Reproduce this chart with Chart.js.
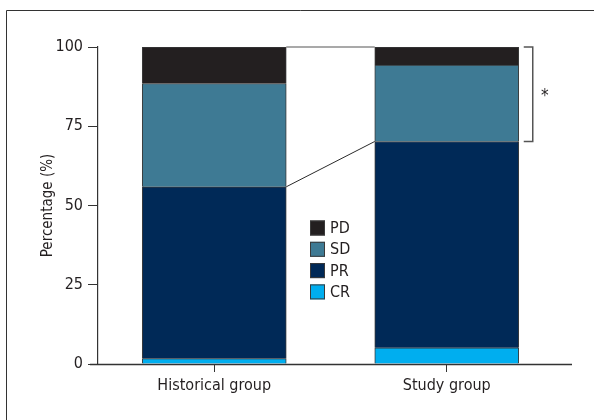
<!DOCTYPE html>
<html>
<head>
<meta charset="utf-8">
<script src="https://cdn.jsdelivr.net/npm/chart.js@4"></script>
<style>
  html, body { margin: 0; padding: 0; background: #ffffff; }
  #wrap { width: 594px; height: 420px; }
</style>
</head>
<body>
<div id="wrap"><canvas id="c" width="594" height="420"></canvas></div>
<script>
// Response categories per group (percentages, stacked bottom to top: CR, PR, SD, PD)
const categories = ['Historical group', 'Study group'];
const crValues = [1.7, 5.1];
const prValues = [54.2, 65.1];
const sdValues = [32.6, 24.1];
const pdValues = [11.5, 5.7];
const yTickValues = [0, 25, 50, 75, 100];

const FONT = "'Liberation Sans Narrow', 'DejaVu Sans Condensed', 'Arial Narrow', sans-serif";
const INK = '#231f20';
const EDGE = '#3a3a3a';

const seriesDefs = [
  { label: 'CR', values: crValues, color: '#00aeef' },
  { label: 'PR', values: prValues, color: '#002957' },
  { label: 'SD', values: sdValues, color: '#3e7a94' },
  { label: 'PD', values: pdValues, color: '#231f20' }
];

const BAR_WIDTH = 144;

// Outer figure frame (left and top edges) and the full-width baseline
const framePlugin = {
  id: 'frame',
  beforeDraw(chart) {
    const ctx = chart.ctx;
    ctx.save();
    ctx.strokeStyle = '#333333';
    ctx.lineWidth = 1;
    ctx.beginPath();
    ctx.moveTo(6.5, chart.height);
    ctx.lineTo(6.5, 10.5);
    ctx.lineTo(chart.width, 10.5);
    ctx.stroke();
    ctx.restore();
  },
  afterDraw(chart) {
    const ctx = chart.ctx;
    const yb = Math.round(chart.scales.y.getPixelForValue(0)) + 0.5;
    ctx.save();
    ctx.strokeStyle = '#333333';
    ctx.lineWidth = 1.3;
    ctx.beginPath();
    ctx.moveTo(90, yb);
    ctx.lineTo(572, yb);
    ctx.stroke();
    ctx.restore();
  }
};

// Connector lines between bars, significance bracket and the in-plot key
const annotatePlugin = {
  id: 'annotate',
  afterDatasetsDraw(chart) {
    const ctx = chart.ctx;
    const y = chart.scales.y;
    const half = BAR_WIDTH / 2;
    const x0 = chart.scales.x.getPixelForValue(0);
    const x1 = chart.scales.x.getPixelForValue(1);
    const histRight = x0 + half;
    const studyLeft = x1 - half;
    const studyRight = x1 + half;

    const cum = (i, n) => seriesDefs.slice(0, n).reduce((s, d) => s + d.values[i], 0);

    ctx.save();
    // top connector
    ctx.strokeStyle = '#555555';
    ctx.lineWidth = 1.2;
    ctx.beginPath();
    ctx.moveTo(histRight, y.getPixelForValue(cum(0, 4)));
    ctx.lineTo(studyLeft, y.getPixelForValue(cum(1, 4)));
    ctx.stroke();
    // connector at the top of the PR segment
    ctx.strokeStyle = '#2a2a2a';
    ctx.lineWidth = 1;
    ctx.beginPath();
    ctx.moveTo(histRight, y.getPixelForValue(cum(0, 2)));
    ctx.lineTo(studyLeft, y.getPixelForValue(cum(1, 2)));
    ctx.stroke();

    // bracket over SD + PD of the study group
    const bx = studyRight + 14;
    const bTop = y.getPixelForValue(cum(1, 4));
    const bBot = y.getPixelForValue(cum(1, 2));
    ctx.strokeStyle = '#555555';
    ctx.lineWidth = 1.5;
    ctx.beginPath();
    ctx.moveTo(bx - 9, bTop);
    ctx.lineTo(bx, bTop);
    ctx.lineTo(bx, bBot);
    ctx.lineTo(bx - 9, bBot);
    ctx.stroke();
    ctx.fillStyle = INK;
    ctx.font = '17px ' + FONT;
    ctx.textAlign = 'center';
    ctx.textBaseline = 'middle';
    ctx.fillText('*', bx + 12, (bTop + bBot) / 2 + 2);

    // key, listed top to bottom as stacked
    const keyX = 310;
    let keyY = 228;
    ctx.font = '16px ' + FONT;
    ctx.textAlign = 'left';
    ctx.textBaseline = 'middle';
    for (let k = seriesDefs.length - 1; k >= 0; k--) {
      const d = seriesDefs[k];
      ctx.fillStyle = d.color;
      ctx.fillRect(keyX, keyY - 7.5, 15, 15);
      ctx.strokeStyle = EDGE;
      ctx.lineWidth = 1;
      ctx.strokeRect(keyX + 0.5, keyY - 7, 14, 14);
      ctx.fillStyle = INK;
      ctx.fillText(d.label, keyX + 20, keyY + 1);
      keyY += 21.3;
    }
    ctx.restore();
  }
};

new Chart(document.getElementById('c'), {
  type: 'bar',
  data: {
    labels: categories,
    datasets: seriesDefs.map(d => ({
      label: d.label,
      data: d.values,
      backgroundColor: d.color,
      borderColor: EDGE,
      borderWidth: 1,
      barThickness: BAR_WIDTH
    }))
  },
  options: {
    responsive: false,
    animation: false,
    devicePixelRatio: 1,
    layout: { padding: { left: 0, top: 47, right: 31, bottom: 0 } },
    plugins: {
      legend: { display: false },
      tooltip: { enabled: false }
    },
    scales: {
      x: {
        stacked: true,
        afterFit(scale) { scale.height = 56; },
        ticks: {
          color: INK,
          font: { family: FONT, size: 16 },
          padding: 4,
          maxRotation: 0
        },
        grid: { offset: false, drawOnChartArea: false, tickLength: 8, color: '#333333', lineWidth: 1 },
        border: { display: false }
      },
      y: {
        stacked: true,
        min: 0,
        max: 100,
        afterBuildTicks(scale) {
          scale.ticks = yTickValues.map(v => ({ value: v }));
        },
        afterFit(scale) { scale.width = 98; },
        ticks: {
          color: INK,
          font: { family: FONT, size: 16 },
          padding: 5
        },
        grid: { drawOnChartArea: false, tickLength: 10, color: '#333333', lineWidth: 1 },
        border: { display: true, color: '#333333', width: 1.2 },
        title: {
          display: true,
          text: 'Percentage (%)',
          color: INK,
          font: { family: FONT, size: 15 },
          padding: { top: 39, bottom: 0 }
        }
      }
    }
  },
  plugins: [framePlugin, annotatePlugin]
});
</script>
</body>
</html>
